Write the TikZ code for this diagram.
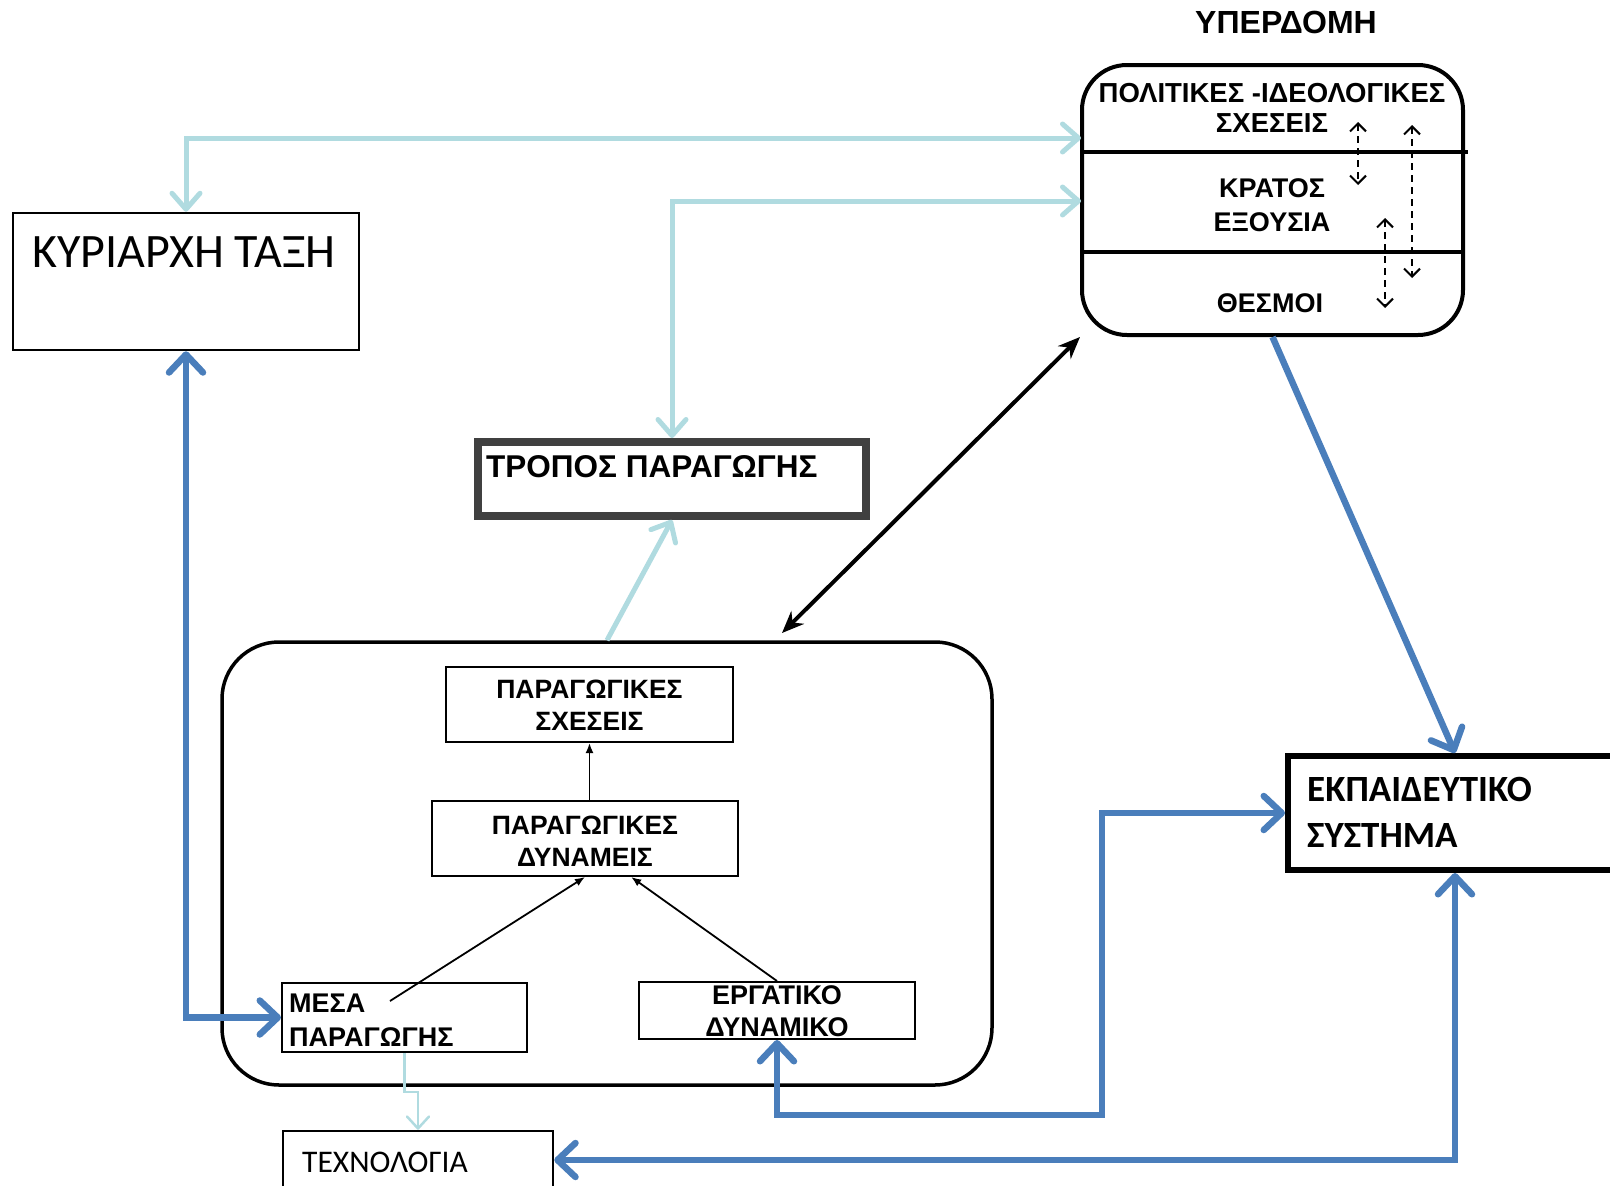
\documentclass[tikz,border=0pt]{standalone}
\usepackage{fontspec}
\setmainfont{Liberation Sans}
\newfontfamily\calfont{Carlito}
\usetikzlibrary{arrows.meta,calc}
\definecolor{lblue}{RGB}{176,219,224}
\definecolor{sblue}{RGB}{74,126,187}
\definecolor{dgray}{RGB}{64,64,64}
\tikzset{
	box/.style={draw, line width=2pt, inner sep=0pt},
	txt/.style={inner sep=0pt, align=center, font=\fontsize{26.5}{32}\selectfont\bfseries},
	lb/.style={lblue, line width=5pt, >={Straight Barb[length=16pt,width=28pt,round]}},
	lbthin/.style={lblue, line width=2.5pt, >={Straight Barb[length=12pt,width=22pt,round]}},
	bb/.style={sblue, line width=6.5pt, >={Straight Barb[length=18pt,width=34pt,round]}},
	kb/.style={black, line width=4pt, >={Stealth[length=22pt,width=18pt]}},
	tb/.style={black, line width=1.8pt, >={Latex[length=10pt,width=8pt]}},
	db/.style={black, line width=2pt, dash pattern=on 7pt off 5pt, >={Straight Barb[length=8pt,width=16pt]}}
}
\begin{document}
\begin{tikzpicture}[x=1pt,y=-1pt]
	\useasboundingbox (0,0) rectangle (1610,1186);
	\node[txt, font=\fontsize{32}{36}\selectfont\bfseries] (ypd) at (1286,22) {ΥΠΕΡΔΟΜΗ};
	\node[box, line width=4pt, rounded corners=45pt, minimum width=381pt, minimum height=270pt] (yper) at (1272.5,200) {};
	\draw[line width=4pt] (1082,152) -- (1468,152);
	\draw[line width=4pt] (1082,252) -- (1465,252);
	\node[txt, font=\fontsize{27.5}{30}\selectfont\bfseries] (pol) at (1272,108) {ΠΟΛΙΤΙΚΕΣ -ΙΔΕΟΛΟΓΙΚΕΣ\\ΣΧΕΣΕΙΣ};
	\node[txt, font=\fontsize{27}{34}\selectfont\bfseries] (kra) at (1272,205) {ΚΡΑΤΟΣ\\ΕΞΟΥΣΙΑ};
	\node[txt, font=\fontsize{27}{34}\selectfont\bfseries] (the) at (1270,303) {ΘΕΣΜΟΙ};
	\coordinate (d1a) at (1358,122);
	\coordinate (d1b) at (1358,185);
	\coordinate (d2a) at (1412,125);
	\coordinate (d2b) at (1412,278);
	\coordinate (d3a) at (1385,218);
	\coordinate (d3b) at (1385,308);
	\draw[db,<->] (d1a) -- (d1b);
	\draw[db,<->] (d2a) -- (d2b);
	\draw[db,<->] (d3a) -- (d3b);

	\node[box, line width=2.5pt, minimum width=346pt, minimum height=137pt] (kt) at (186,281.5) {};
	\node[inner sep=0pt, font=\calfont\fontsize{48}{52}\selectfont] at (184,252) {ΚΥΡΙΑΡΧΗ ΤΑΞΗ};

	\node[box, draw=dgray, line width=8pt, minimum width=388pt, minimum height=74pt] (tr) at (672,479) {};
	\node[txt, anchor=west, font=\fontsize{31.5}{34}\selectfont\bfseries] at (486,467) {ΤΡΟΠΟΣ ΠΑΡΑΓΩΓΗΣ};

	\node[box, line width=3.5pt, rounded corners=57pt, minimum width=770pt, minimum height=443pt] (prod) at (607,863.5) {};
	\node[box, minimum width=287pt, minimum height=75pt] (sch) at (589.5,704.5) {};
	\node[txt] at (589.5,705) {ΠΑΡΑΓΩΓΙΚΕΣ\\ΣΧΕΣΕΙΣ};
	\node[box, minimum width=306pt, minimum height=75pt] (dyn) at (585,838.5) {};
	\node[txt] at (585,841) {ΠΑΡΑΓΩΓΙΚΕΣ\\ΔΥΝΑΜΕΙΣ};
	\node[box, minimum width=245pt, minimum height=69pt] (mesa) at (404.5,1017.5) {};
	\node[txt, anchor=west, align=left, font=\fontsize{27}{34}\selectfont\bfseries] at (289,1020) {ΜΕΣΑ\\ΠΑΡΑΓΩΓΗΣ};
	\node[box, minimum width=276pt, minimum height=57pt] (erg) at (777,1010.5) {};
	\node[txt, font=\fontsize{27}{32}\selectfont\bfseries] at (777,1011) {ΕΡΓΑΤΙΚΟ\\ΔΥΝΑΜΙΚΟ};

	\node[box, line width=2.5pt, minimum width=270pt, minimum height=58pt] (tech) at (418,1160) {};
	\node[inner sep=0pt, anchor=west, font=\calfont\fontsize{31.5}{34}\selectfont] at (302,1162) {ΤΕΧΝΟΛΟΓΙΑ};
	\node[box, line width=6pt, minimum width=334pt, minimum height=114pt] (ekp) at (1455,813) {};
	\node[inner sep=0pt, anchor=west, align=left, font=\calfont\fontsize{37}{46}\selectfont\bfseries] at (1307,812) {ΕΚΠΑΙΔΕΥΤΙΚΟ\\ΣΥΣΤΗΜΑ};

	\coordinate (polin) at (1081,138);
	\coordinate (krain) at (1081,201);
	\coordinate (pa) at (782,633);
	\coordinate (ms) at (390,1001);
	\coordinate (bend) at (1102,1115);
	\draw[lb,<->] (kt.north) |- (polin);
	\draw[lb,<->] (tr.north) |- (krain);
	\draw[lb,->] (prod.north) -- (tr.south);
	\draw[lbthin,->] (mesa.south) -- ++(0,39) -| (tech.north);
	\draw[kb,<->] (pa) -- (yper.south west);
	\draw[bb,<->] (kt.south) |- (mesa.west);
	\draw[bb,->] (yper.south) -- (ekp.north);
	\draw[bb,<->] (erg.south) |- (bend) |- (ekp.west);
	\draw[bb,<->] (ekp.south) |- (tech.east);
	\draw[tb,->] (dyn.north -| sch.south) -- (sch.south);
	\draw[tb,->] (ms) -- (dyn.south);
	\draw[tb,->] (erg.north) -- ($(dyn.south)!0.3!(dyn.south east)$);
\end{tikzpicture}
\end{document}
